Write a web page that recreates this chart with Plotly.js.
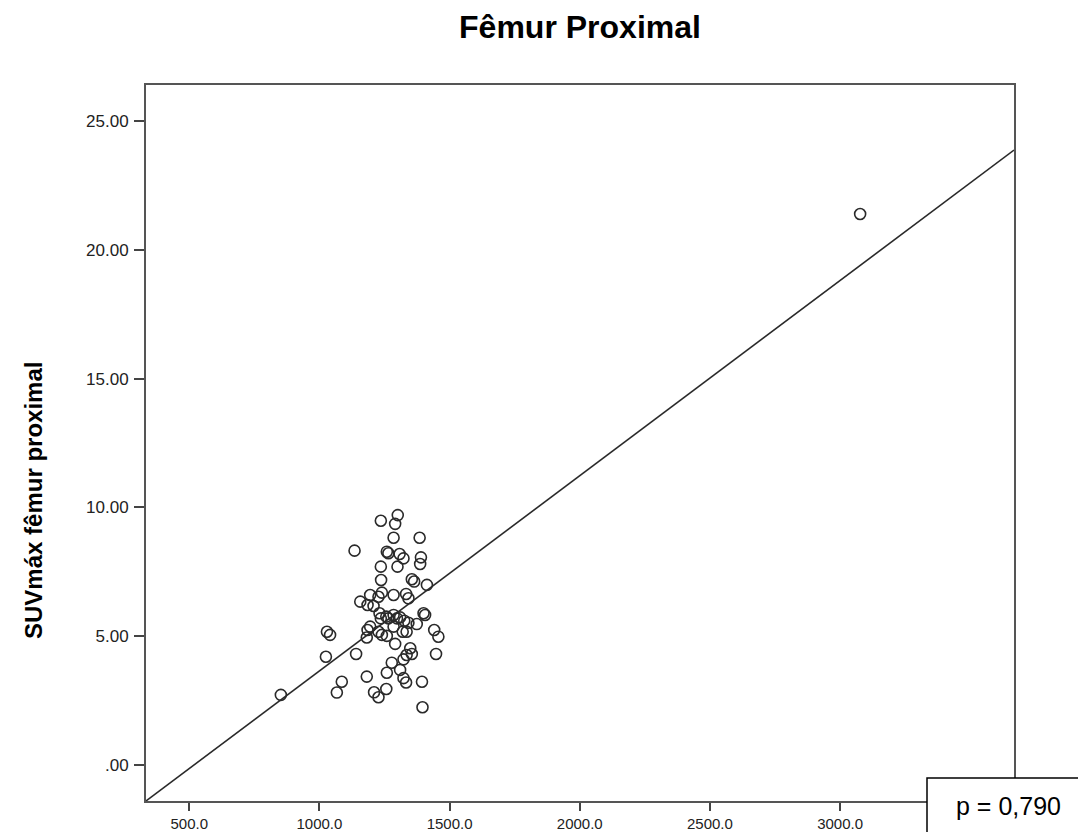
<!DOCTYPE html>
<html>
<head>
<meta charset="utf-8">
<script src="https://cdn.plot.ly/plotly-3.0.1.min.js"></script>
<style>html,body{margin:0;padding:0;background:#fff;}#chart{width:1078px;height:832px;}</style>
</head>
<body>
<div id="chart"></div>
<script>
// Density (x) and SUVmax (y)
const densidade = [852,1029,1041,1025,1086,1067,1135,1157,1141,1182,1210,1227,1257,1236,1301,1291,1285,1385,1259,1265,1308,1323,1390,1387,1236,1300,1237,1355,1364,1413,1195,1240,1227,1285,1333,1342,1185,1208,1231,1257,1265,1298,1400,1406,1326,1342,1374,1195,1185,1227,1182,1240,1285,1320,1335,1259,1291,1441,1457,1448,1349,1355,1335,1323,1278,1310,1259,1323,1333,1394,1396,1285,1310,1236,3077];
const suvMax = [2.72,5.17,5.05,4.20,3.23,2.81,8.32,6.34,4.31,3.43,2.82,2.63,2.95,9.48,9.70,9.36,8.82,8.82,8.28,8.22,8.19,8.02,8.06,7.80,7.70,7.70,7.18,7.21,7.12,6.99,6.60,6.69,6.53,6.60,6.64,6.47,6.21,6.17,5.89,5.76,5.69,5.69,5.89,5.82,5.60,5.52,5.47,5.37,5.24,5.17,4.95,5.05,5.37,5.17,5.17,5.01,4.70,5.24,4.98,4.31,4.53,4.31,4.27,4.10,3.97,3.69,3.58,3.37,3.20,3.23,2.24,5.82,5.73,5.69,21.39];
// Linear fit coefficients
const fitIntercept = -3.93;
const fitSlope = 0.00758;
// Axis ticks
const xTickVals = [500,1000,1500,2000,2500,3000];
const xTickText = ["500.0","1000.0","1500.0","2000.0","2500.0","3000.0"];
const yTickVals = [0,5,10,15,20,25];
const yTickText = [".00","5.00","10.00","15.00","20.00","25.00"];
const xRange = [334, 3668];
const yRange = [-1.40, 26.40];
const pText = "p = 0,790";

const W = 1078, H = 832;
const mL = 146, mR = 64, mT = 85, mB = 31;
const pw = W - mL - mR, ph = H - mT - mB;
const px = v => (v - mL) / pw;
const py = v => (H - mB - v) / ph;

const fitX = xRange.slice();
const fitY = fitX.map(v => fitIntercept + fitSlope * v);

const traces = [
  {x: fitX, y: fitY, mode: 'lines', line: {color: '#2a2a2a', width: 1.6}, hoverinfo: 'skip', showlegend: false},
  {x: densidade, y: suvMax, mode: 'markers', type: 'scatter',
   marker: {symbol: 'circle-open', size: 11, color: '#2a2a2a', line: {width: 1.6, color: '#2a2a2a'}}, showlegend: false}
];

const FF = 'Liberation Sans, Arial, sans-serif';

const layout = {
  width: W, height: H,
  margin: {l: mL, r: mR, t: mT, b: mB, pad: 0},
  paper_bgcolor: '#fff', plot_bgcolor: '#fff',
  showlegend: false,
  title: {text: '<b>Fêmur Proximal</b>', font: {family: FF, size: 32, color: '#000'},
          xref: 'paper', x: 0.5, xanchor: 'center', yref: 'container', y: 1 - 27/832, yanchor: 'middle'},
  xaxis: {range: xRange, tickvals: xTickVals, ticktext: xTickText, showgrid: false, zeroline: false,
          showline: true, mirror: true, linecolor: '#555', linewidth: 2,
          ticks: 'outside', ticklen: 8, tickwidth: 2, tickcolor: '#444', ticklabelstandoff: 0,
          tickfont: {family: FF, size: 15, color: '#222'}},
  yaxis: {range: yRange, tickvals: yTickVals, ticktext: yTickText, showgrid: false, zeroline: false,
          showline: true, mirror: true, linecolor: '#555', linewidth: 2,
          ticks: 'outside', ticklen: 10, tickwidth: 2, tickcolor: '#444', ticklabelstandoff: 2,
          tickfont: {family: FF, size: 17, color: '#222'}},
  shapes: [
    {type: 'rect', xref: 'paper', yref: 'paper', x0: px(927), x1: px(1090), y0: py(845), y1: py(778),
     fillcolor: '#fff', line: {color: '#000', width: 1.5}, layer: 'above'}
  ],
  annotations: [
    {text: pText, xref: 'paper', yref: 'paper', x: px(1008), y: py(806), xanchor: 'center', yanchor: 'middle',
     showarrow: false, font: {family: FF, size: 25, color: '#000'}},
    {text: '<b>SUVmáx fêmur proximal</b>', xref: 'paper', yref: 'paper', x: px(33), y: py(501),
     xanchor: 'center', yanchor: 'middle', textangle: -90, showarrow: false,
     font: {family: FF, size: 24, color: '#000'}}
  ]
};

Plotly.newPlot('chart', traces, layout, {displayModeBar: false, staticPlot: true});
</script>
</body>
</html>
